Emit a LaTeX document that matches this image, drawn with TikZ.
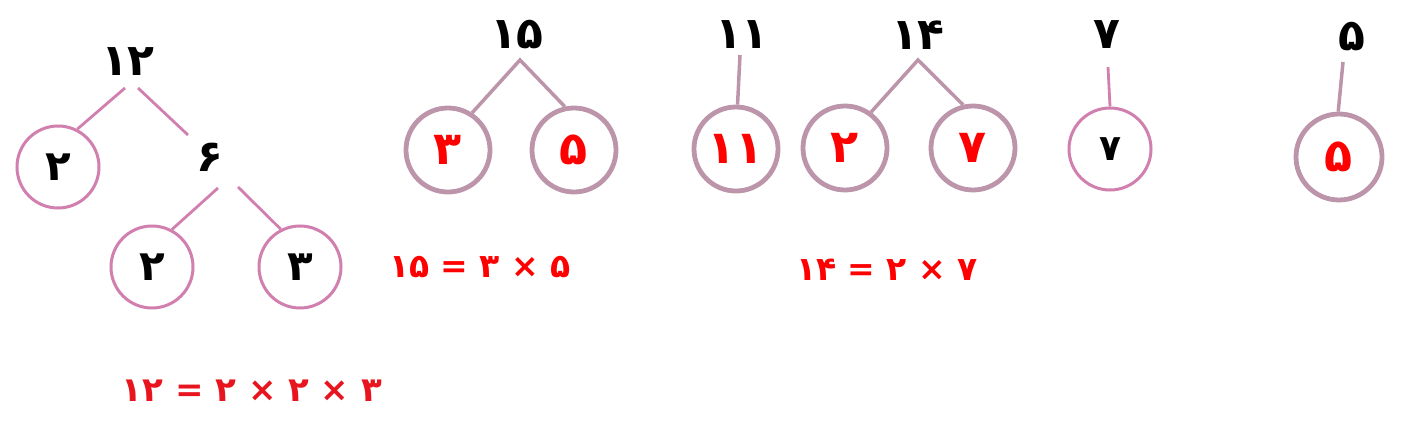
\documentclass[tikz,border=0pt]{standalone}
\usepackage{fontspec}
\TeXXeTstate=1
\newfontfamily\pfont[Script=Arabic]{DejaVu Sans}
\definecolor{pinkc}{HTML}{D07FAE}
\definecolor{mauvec}{HTML}{BC95AA}
\definecolor{redc}{HTML}{FF0000}
\definecolor{redb}{HTML}{E8151F}
\tikzset{
  toplab/.style={font=\pfont\bfseries\fontsize{44}{44}\selectfont, text=black, inner sep=0pt},
  pcirc/.style={circle, draw=pinkc, line width=3pt, minimum size=82pt, inner sep=0pt, font=\pfont\bfseries\fontsize{42}{42}\selectfont, text=black},
  mcirc/.style={circle, draw=mauvec, line width=4.8pt, minimum size=84pt, inner sep=0pt, font=\pfont\bfseries\fontsize{46}{46}\selectfont, text=redc},
  pline/.style={draw=pinkc, line width=2.8pt},
  mline/.style={draw=mauvec, line width=3.5pt},
  eqn/.style={font=\pfont\bfseries\fontsize{33}{33}\selectfont, text=redc, inner sep=0pt},
}
\begin{document}
\begin{tikzpicture}[x=1pt,y=-1pt]
\useasboundingbox (0,0) rectangle (1410,425);
% tree 12
\node[toplab] (l12) at (128,62) {۱۲};
\node[pcirc] (c12a) at (58,167) {۲};
\node[toplab] (l6) at (210,157) {۶};
\node[pcirc] (c12b) at (152,267) {۲};
\node[pcirc] (c12c) at (300,267) {۳};
\coordinate (a12l) at (125,88);
\coordinate (a12r) at (138,88);
\coordinate (e12r) at (188,135);
\coordinate (a6l) at (218,188);
\coordinate (a6r) at (238,187);
\draw[pline] (a12l) -- (c12a.63);
\draw[pline] (a12r) -- (e12r);
\draw[pline] (a6l) -- (c12b.62);
\draw[pline] (a6r) -- (c12c.117);
\node[eqn, text=redb, font=\pfont\bfseries\fontsize{34}{34}\selectfont] (eq12) at (252,391) {\beginR ۳ × ۲ × ۲ = ۱۲\endR};
% tree 15
\node[toplab] (l15) at (517,35) {۱۵};
\coordinate (a15) at (520,60);
\node[mcirc] (c15a) at (448,150) {۳};
\node[mcirc] (c15b) at (574,150) {۵};
\draw[mline] (c15a.57) -- (a15) -- (c15b.102);
\node[eqn] (eq15) at (480,267) {\beginR ۵ × ۳ = ۱۵\endR};
% tree 11
\node[toplab] (l11) at (742,35) {۱۱};
\coordinate (a11) at (740,55);
\node[mcirc] (c11) at (736,149) {۱۱};
\draw[mline] (a11) -- (c11.88);
% tree 14
\node[toplab] (l14) at (918,35) {۱۴};
\coordinate (a14) at (918,60);
\node[mcirc] (c14a) at (845,148) {۲};
\node[mcirc] (c14b) at (973,148) {۷};
\draw[mline] (c14a.54) -- (a14) -- (c14b.103);
\node[eqn] (eq14) at (887,270) {\beginR ۷ × ۲ = ۱۴\endR};
% tree 7
\node[toplab] (l7) at (1107,35) {۷};
\coordinate (a7) at (1108,67);
\node[pcirc, font=\pfont\bfseries\fontsize{36}{36}\selectfont] (c7) at (1110,149) {۷};
\draw[pline] (a7) -- (c7.90);
% tree 5
\node[toplab] (l5) at (1352,37) {۵};
\coordinate (a5) at (1343,62);
\node[mcirc, minimum size=86pt] (c5) at (1339,157) {۵};
\draw[mline] (a5) -- (c5.91);
\end{tikzpicture}
\end{document}
